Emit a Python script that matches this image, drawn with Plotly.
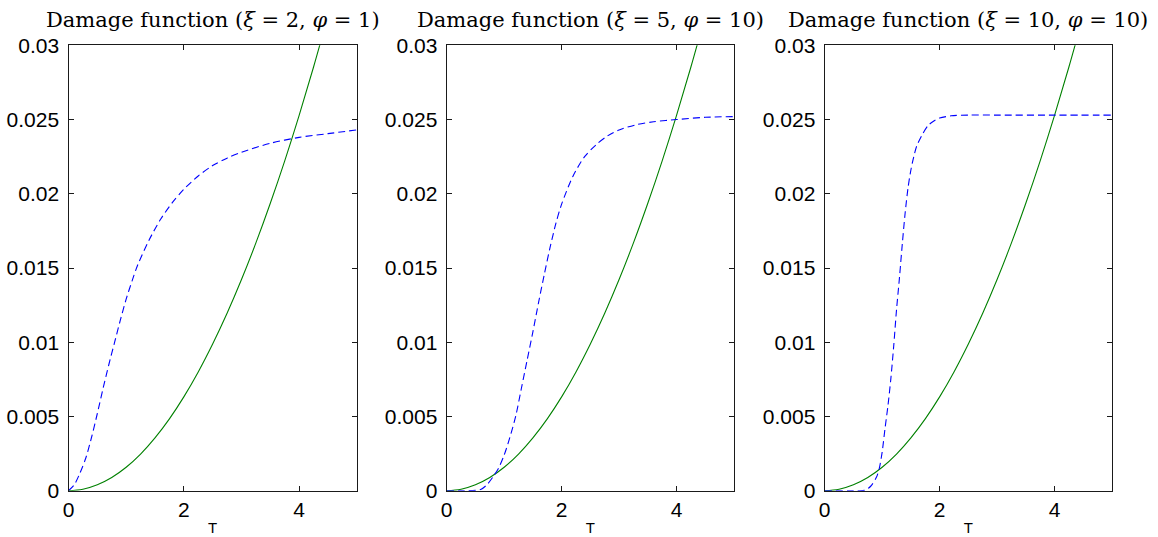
import plotly.graph_objects as go

# Temperature grid (T) and damage curves read for each parameter setting
t_quad = [0, 0.25, 0.5, 0.75, 1.0, 1.25, 1.5, 1.75, 2.0, 2.25, 2.5, 2.75,
          3.0, 3.25, 3.5, 3.75, 4.0, 4.25, 4.5]
d_quad = [0, 0.00010, 0.00040, 0.00089, 0.00158, 0.00247, 0.00356, 0.00484,
          0.00632, 0.00800, 0.00988, 0.01195, 0.01422, 0.01669, 0.01936,
          0.02222, 0.02528, 0.02854, 0.03200]

t_a = [0, 0.1, 0.2, 0.3, 0.4, 0.5, 0.6, 0.7, 0.8, 0.9, 1.0, 1.1, 1.2, 1.4,
       1.6, 1.8, 2.0, 2.25, 2.5, 2.75, 3.0, 3.5, 4.0, 4.5, 5.0]
d_a = [0, 0.0004, 0.0012, 0.0022, 0.0036, 0.0052, 0.0069, 0.0085, 0.0100,
       0.0115, 0.0129, 0.0141, 0.0152, 0.0169, 0.0183, 0.0194, 0.0203,
       0.0212, 0.0219, 0.0224, 0.0228, 0.0234, 0.0238, 0.02405, 0.0243]

t_b = [0, 0.25, 0.5, 0.6, 0.7, 0.8, 0.9, 1.0, 1.1, 1.2, 1.3, 1.4, 1.5, 1.6,
       1.7, 1.8, 1.9, 2.0, 2.2, 2.4, 2.6, 2.8, 3.0, 3.3, 3.6, 4.0, 4.5, 5.0]
d_b = [0, 0, 0.00002, 0.0001, 0.0004, 0.0009, 0.0015, 0.0024, 0.0036,
       0.0050, 0.0069, 0.0088, 0.0107, 0.0127, 0.0146, 0.0164, 0.0180,
       0.0193, 0.0212, 0.0225, 0.0233, 0.0239, 0.0243, 0.02465, 0.02485,
       0.0250, 0.02515, 0.0252]

t_c = [0, 0.5, 0.7, 0.8, 0.9, 0.95, 1.0, 1.05, 1.1, 1.15, 1.2, 1.25, 1.3,
       1.35, 1.4, 1.45, 1.5, 1.55, 1.6, 1.7, 1.8, 1.9, 2.0, 2.2, 2.5, 3.0,
       4.0, 5.0]
d_c = [0, 0, 0.00003, 0.0003, 0.0009, 0.0015, 0.0026, 0.0042, 0.0057,
       0.0075, 0.0097, 0.0122, 0.0143, 0.0166, 0.0187, 0.0204, 0.0216,
       0.0225, 0.0232, 0.0240, 0.0246, 0.0249, 0.0251, 0.02525, 0.0253,
       0.0253, 0.0253, 0.0253]

titles = ["Damage function (<i>ξ</i> = 2, <i>φ</i> = 1)",
          "Damage function (<i>ξ</i> = 5, <i>φ</i> = 10)",
          "Damage function (<i>ξ</i> = 10, <i>φ</i> = 10)"]
x_ticks = [0, 2, 4]
y_ticks = [0, 0.005, 0.01, 0.015, 0.02, 0.025, 0.03]
y_tick_text = ["0", "0.005", "0.01", "0.015", "0.02", "0.025", "0.03"]

W, H = 1158, 537
x_domains = [(68.5 / W, 356.8 / W), (446.7 / W, 734.0 / W), (824.7 / W, 1112.0 / W)]
y_domain = (1 - 490.7 / H, 1 - 45.3 / H)

GREEN = "rgb(0,128,0)"
BLUE = "rgb(0,0,255)"
AXIS = "#1a1a1a"
SANS = "Liberation Sans, Arial, sans-serif"

fig = go.Figure()
blue_sets = [(t_a, d_a), (t_b, d_b), (t_c, d_c)]

for i, (tb, db) in enumerate(blue_sets):
    sfx = "" if i == 0 else str(i + 1)
    fig.add_trace(go.Scatter(x=t_quad, y=d_quad, mode="lines",
                             line=dict(color=GREEN, width=1.1, shape="spline", smoothing=1.0),
                             xaxis="x" + sfx, yaxis="y" + sfx, hoverinfo="skip"))
    fig.add_trace(go.Scatter(x=tb, y=db, mode="lines",
                             line=dict(color=BLUE, width=1.1, dash="7px,4px",
                                       shape="spline", smoothing=0.8),
                             xaxis="x" + sfx, yaxis="y" + sfx, hoverinfo="skip"))

layout = dict(width=W, height=H, margin=dict(l=0, r=0, t=0, b=0, autoexpand=False),
              paper_bgcolor="white", plot_bgcolor="white", showlegend=False,
              font=dict(family=SANS, color="black"))

annotations = []
for i in range(3):
    sfx = "" if i == 0 else str(i + 1)
    layout["xaxis" + sfx] = dict(
        domain=list(x_domains[i]), range=[0, 5], anchor="y" + sfx,
        tickvals=x_ticks, ticktext=[str(v) for v in x_ticks],
        ticks="inside", ticklen=5, tickcolor=AXIS, tickwidth=1,
        showline=True, linecolor=AXIS, linewidth=1.3, mirror="ticks",
        showgrid=False, zeroline=False, automargin=False,
        tickfont=dict(family=SANS, size=21, color="black"),
        title=dict(text="T", font=dict(family=SANS, size=15, color="black"), standoff=2),
    )
    layout["yaxis" + sfx] = dict(
        domain=list(y_domain), range=[0, 0.03], anchor="x" + sfx,
        tickvals=y_ticks, ticktext=y_tick_text,
        ticks="inside", ticklen=5, tickcolor=AXIS, tickwidth=1,
        showline=True, linecolor=AXIS, linewidth=1.3, mirror="ticks",
        showgrid=False, zeroline=False, automargin=False,
        tickfont=dict(family=SANS, size=21, color="black"),
        ticklabelstandoff=4,
    )
    xc = (x_domains[i][0] + x_domains[i][1]) / 2
    annotations.append(dict(text=titles[i], x=xc, y=1 - 20 / H, xref="paper", yref="paper",
                            xanchor="center", yanchor="middle", showarrow=False,
                            font=dict(family="DejaVu Serif, serif", size=21, color="black")))

layout["annotations"] = annotations
fig.update_layout(**layout)
fig.write_html("out.html")
